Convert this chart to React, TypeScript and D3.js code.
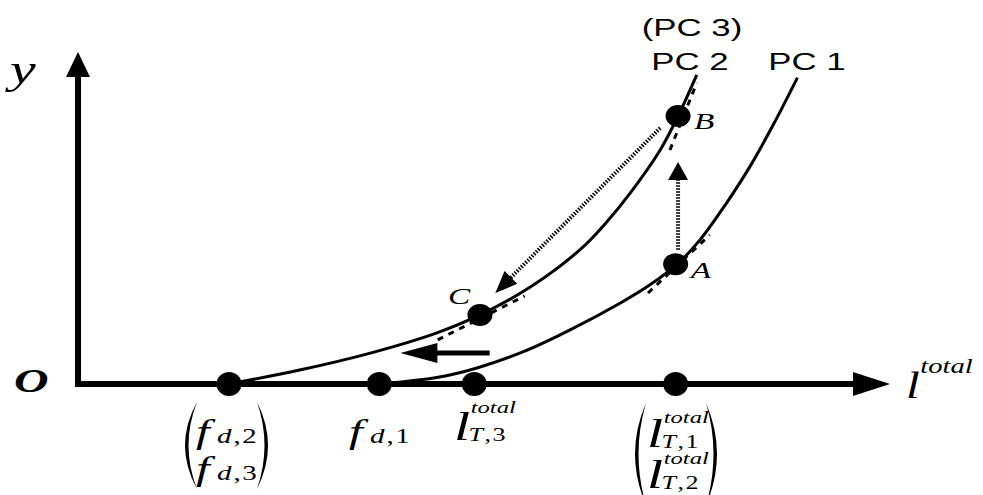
import * as d3 from 'd3';

const W = 983;
const H = 495;
const SX = 1.45; // the original figure is stretched horizontally

// abstract units: x 0..100 along l_total, y 0..100 along y
const xAxisEnd = 100;
const yAxisEnd = 100;

const pc2X = [18.6, 27.3, 36.0, 44.2, 49.5, 55.7, 61.8, 64.9, 68.0, 71.7, 73.9, 76.2];
const pc2Y = [0, 4.2, 9.3, 15.4, 20.8, 29.2, 40.4, 48.2, 57.5, 70.5, 80.7, 93.1];
const pc1X = [37.1, 45.8, 54.4, 60.6, 66.8, 70.4, 73.8, 76.6, 79.7, 82.8, 85.8, 88.6];
const pc1Y = [0, 2.7, 9.3, 16.3, 24.4, 29.8, 36.1, 43.4, 53.9, 65.7, 78.9, 92.3];

// dots on the horizontal axis: f_d2, f_d1, l_T3, l_T1
const axisDots = [18.6, 37.1, 48.8, 73.6];

const stateNames = ['A', 'B', 'C'];
const stateX = [73.6, 73.9, 49.5];
const stateY = [36.1, 80.7, 20.8];

// tangent (dashed) segments at A, B, C
const tangents = [
  [[70.2, 27.4], [77.8, 44.9]],
  [[72.9, 70.5], [76.2, 90.7]],
  [[44.3, 13.3], [55.0, 26.5]],
];

const curveLabels = ['(PC 3)', 'PC 2', 'PC 1'];

const x = d3.scaleLinear().domain([0, 100]).range([78, 890]);
const y = d3.scaleLinear().domain([0, 100]).range([384, 52]);

const line = d3
  .line<[number, number]>()
  .x((d) => x(d[0]))
  .y((d) => y(d[1]))
  .curve(d3.curveCatmullRom.alpha(0.5));

function head(tip: number[], from: number[], len: number, half: number) {
  const dx = tip[0] - from[0];
  const dy = tip[1] - from[1];
  const d = Math.hypot(dx, dy);
  const ux = dx / d;
  const uy = dy / d;
  const bx = tip[0] - ux * len;
  const by = tip[1] - uy * len;
  return {
    path: `M${tip[0]},${tip[1]}L${bx - uy * half},${by + ux * half}L${bx + uy * half},${by - ux * half}Z`,
    base: [bx + ux * 2, by + uy * 2],
  };
}

// big bracket drawn as a filled crescent
function paren(outerMid: number, inner: number, top: number, bot: number, thick = 3.5) {
  const mid = (top + bot) / 2;
  const s = Math.sign(inner - outerMid);
  const c1 = 2 * outerMid - inner;
  const c2 = 2 * (outerMid + s * thick) - inner;
  return `M${inner},${top}Q${c1},${mid} ${inner},${bot}Q${c2},${mid} ${inner},${top}Z`;
}

const serif = "'Liberation Serif', 'DejaVu Serif', serif";
const sans = "'Liberation Sans', Arial, sans-serif";

function Stretch({ tx, ty, children }: { tx: number; ty: number; children: any }) {
  return <g transform={`translate(${tx},${ty}) scale(${SX},1)`}>{children}</g>;
}

function FLabel({ tx, ty, sub }: { tx: number; ty: number; sub: string }) {
  return (
    <Stretch tx={tx} ty={ty}>
      <text fontFamily={serif} fontStyle="italic">
        <tspan fontSize={34}>f</tspan>
        <tspan fontSize={20} dx={5}>d</tspan>
        <tspan fontSize={20} fontStyle="normal" dx={1.5}>,</tspan>
        <tspan fontSize={20} fontStyle="normal" dx={1}>{sub}</tspan>
      </text>
    </Stretch>
  );
}

function LLabel({ tx, ty, sub, sup = -24 }: { tx: number; ty: number; sub: string; sup?: number }) {
  return (
    <Stretch tx={tx} ty={ty}>
      <text fontFamily={serif} fontStyle="italic">
        <tspan fontSize={40}>l</tspan>
        <tspan fontSize={17} x={11.5} y={sup}>total</tspan>
        <tspan fontSize={18} x={10} y={1}>T</tspan>
        <tspan fontSize={18} fontStyle="normal" dx={1}>,</tspan>
        <tspan fontSize={18} fontStyle="normal" dx={1}>{sub}</tspan>
      </text>
    </Stretch>
  );
}

export default function App() {
  const x0 = x(0);
  const y0 = y(0);

  const yHead = head([x0, y(yAxisEnd)], [x0, y0], 25, 12);
  const xHead = head([x(xAxisEnd), y0], [x0, y0], 37, 12);

  // A -> B dotted vertical arrow
  const upFrom = [x(73.9), y(40.4)];
  const upHead = head([x(73.9), y(66.9)], upFrom, 18, 10);
  // B -> C dotted arrow
  const bcFrom = [x(71.7), y(77.1)];
  const bcHead = head([x(51.4), y(27.4)], bcFrom, 22, 9);
  // left solid arrow
  const lfFrom = [x(50.7), y(9.3)];
  const lfHead = head([x(39.7), y(9.3)], lfFrom, 37, 10);

  const pc2 = pc2X.map((v, i) => [v, pc2Y[i]] as [number, number]);
  const pc1 = pc1X.map((v, i) => [v, pc1Y[i]] as [number, number]);

  return (
    <svg
      width={W}
      height={H}
      style={{ position: 'fixed', left: 0, top: 0, background: '#fff' }}
    >
      {/* axes */}
      <line x1={x0} y1={y0 + 3} x2={x0} y2={yHead.base[1]} stroke="#000" strokeWidth={6} />
      <path d={yHead.path} fill="#000" />
      <line x1={x0 - 3} y1={y0} x2={xHead.base[0]} y2={y0} stroke="#000" strokeWidth={6} />
      <path d={xHead.path} fill="#000" />

      {/* curves */}
      <path d={line(pc2) || ''} fill="none" stroke="#000" strokeWidth={3} />
      <path d={line(pc1) || ''} fill="none" stroke="#000" strokeWidth={3} />

      {/* tangents */}
      {tangents.map((t, i) => (
        <line
          key={i}
          x1={x(t[0][0])}
          y1={y(t[0][1])}
          x2={x(t[1][0])}
          y2={y(t[1][1])}
          stroke="#000"
          strokeWidth={3}
          strokeDasharray="6,6"
        />
      ))}

      {/* dotted arrows */}
      <line x1={upFrom[0]} y1={upFrom[1]} x2={upHead.base[0]} y2={upHead.base[1]} stroke="#000" strokeWidth={4} strokeDasharray="1.5,1.5" />
      <path d={upHead.path} fill="#000" />
      <line x1={bcFrom[0]} y1={bcFrom[1]} x2={bcHead.base[0]} y2={bcHead.base[1]} stroke="#000" strokeWidth={4} strokeDasharray="1.5,1.5" />
      <path d={bcHead.path} fill="#000" />
      <line x1={lfFrom[0]} y1={lfFrom[1]} x2={lfHead.base[0]} y2={lfHead.base[1]} stroke="#000" strokeWidth={5} />
      <path d={lfHead.path} fill="#000" />

      {/* dots */}
      {axisDots.map((v, i) => (
        <ellipse key={i} cx={x(v)} cy={y0} rx={12.5} ry={12} fill="#000" />
      ))}
      {stateNames.map((n, i) => (
        <ellipse key={n} cx={x(stateX[i])} cy={y(stateY[i])} rx={12.5} ry={11} fill="#000" />
      ))}

      {/* state labels */}
      {stateNames.map((n, i) => {
        const off = n === 'C' ? [-32, -11] : n === 'B' ? [16, 13] : [15, 14];
        return (
          <Stretch key={n} tx={x(stateX[i]) + off[0]} ty={y(stateY[i]) + off[1]}>
            <text fontFamily={serif} fontStyle="italic" fontSize={23}>{n}</text>
          </Stretch>
        );
      })}

      {/* curve names */}
      <Stretch tx={692} ty={36}>
        <text fontFamily={sans} fontSize={24} textAnchor="middle">{curveLabels[0]}</text>
      </Stretch>
      <Stretch tx={690} ty={70}>
        <text fontFamily={sans} fontSize={24} textAnchor="middle">{curveLabels[1]}</text>
      </Stretch>
      <Stretch tx={807} ty={70}>
        <text fontFamily={sans} fontSize={24} textAnchor="middle">{curveLabels[2]}</text>
      </Stretch>

      {/* axis names */}
      <Stretch tx={10} ty={83}>
        <text fontFamily={serif} fontStyle="italic" fontSize={40}>y</text>
      </Stretch>
      <Stretch tx={14} ty={392}>
        <text fontFamily={serif} fontStyle="italic" fontWeight="bold" fontSize={33}>O</text>
      </Stretch>
      <g transform="translate(906,398) scale(1.3,1)">
        <text fontFamily={serif} fontStyle="italic">
          <tspan fontSize={38}>l</tspan>
          <tspan fontSize={22} x={11} y={-25}>total</tspan>
        </text>
      </g>

      {/* bottom labels */}
      <path d={paren(185, 197, 402, 489)} fill="#000" />
      <path d={paren(268, 257, 402, 489)} fill="#000" />
      <FLabel tx={196} ty={443} sub="2" />
      <FLabel tx={196} ty={480} sub="3" />
      <FLabel tx={349} ty={443} sub="1" />

      <LLabel tx={454} ty={440} sub="3" sup={-27} />
      <path d={paren(635, 646, 403, 505)} fill="#000" />
      <path d={paren(717, 706, 403, 505)} fill="#000" />
      <LLabel tx={647} ty={447} sub="1" />
      <LLabel tx={647} ty={488} sub="2" />
    </svg>
  );
}
